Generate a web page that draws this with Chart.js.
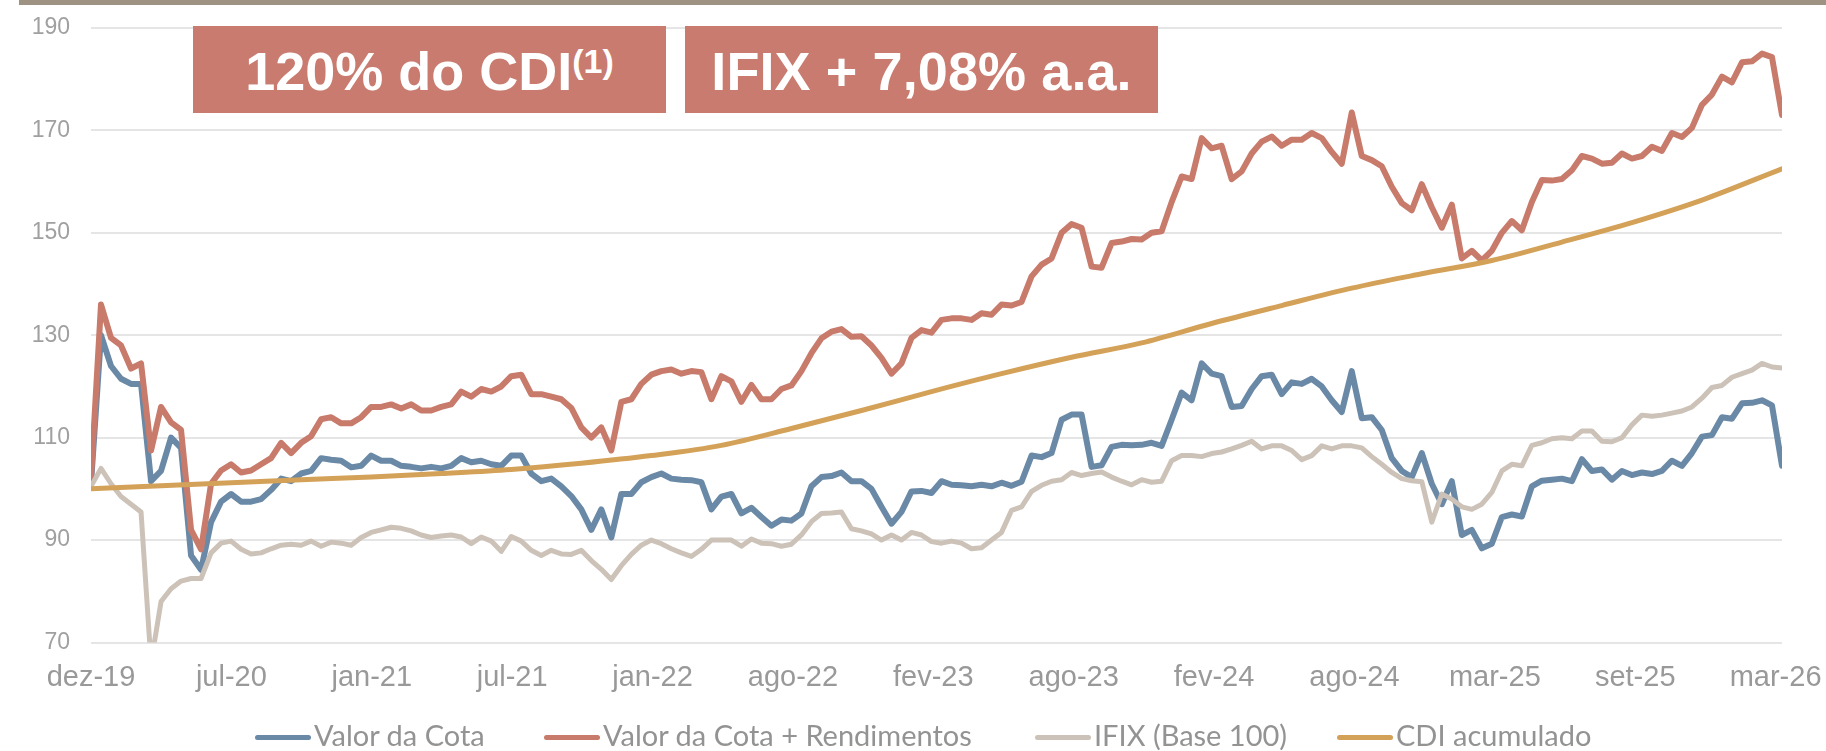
<!DOCTYPE html>
<html>
<head>
<meta charset="utf-8">
<script src="https://cdn.jsdelivr.net/npm/chart.js@4.4.1/dist/chart.umd.min.js"></script>
<style>
  html, body { margin: 0; padding: 0; background: #ffffff; }
  #wrap { position: relative; width: 1826px; height: 751px; overflow: hidden; background: #fff; }
  #c { position: absolute; left: 0; top: 0; }
  .bar { position: absolute; left: 19px; top: 0; width: 1807px; height: 5px; background: #9e9282; }
  .box { position: absolute; top: 26px; height: 87px; width: 473px; background: #c87b6e; }
  .btxt { position: absolute; left: 0; right: 0; top: 17.8px; text-align: center; color: #fff;
          font-family: 'Liberation Sans', Arial, sans-serif; font-weight: bold; font-size: 54px; line-height: 1; white-space: nowrap; }
  .sup { font-size: 34px; position: relative; top: -17px; line-height: 0; }
  .ln { position: absolute; top: 734.5px; height: 5px; width: 56px; border-radius: 3px; }
  .lt { position: absolute; top: 720px; font-family: Lato, 'Open Sans', sans-serif; font-size: 29px; line-height: 1;
        color: #939393; white-space: nowrap; }
</style>
</head>
<body>
<div id="wrap">
  <canvas id="c" width="1826" height="751"></canvas>
  <div class="bar"></div>
  <div class="box" style="left:193px"><div class="btxt" style="letter-spacing:0px">120% do CDI<span class="sup">(1)</span></div></div>
  <div class="box" style="left:685px"><div class="btxt" style="letter-spacing:0.1px">IFIX + 7,08% a.a.</div></div>
  <div id="legend"></div>
</div>
<script>
// ---- Data (index = sampling step along the time axis) ----
const tickPos = [0, 14.03, 28.06, 42.09, 56.12, 70.15, 84.18, 98.21, 112.24, 126.27, 140.3, 154.33, 168.36];
const tickLabels = ['dez-19','jul-20','jan-21','jul-21','jan-22','ago-22','fev-23','ago-23','fev-24','ago-24','mar-25','set-25','mar-26'];

const valorCota = [
  101, 130, 124, 121.5, 120.5, 120.5, 101.5, 103.5, 110, 108,
  87, 84.2, 93.5, 97.5, 99, 97.5, 97.5, 98, 99.8, 102,
  101.5, 103, 103.5, 106, 105.7, 105.5, 104.2, 104.5, 106.5, 105.5,
  105.5, 104.5, 104.3, 104, 104.3, 104, 104.5, 106, 105.2, 105.5,
  104.8, 104.5, 106.5, 106.5, 103, 101.5, 102, 100.5, 98.6, 96,
  92, 96, 90.5, 99, 99, 101.3, 102.3, 103, 102, 101.8,
  101.7, 101.3, 96, 98.5, 99, 95.2, 96.3, 94.5, 92.8, 94,
  93.8, 95.2, 100.5, 102.3, 102.5, 103.2, 101.5, 101.5, 100, 96.5,
  93.2, 95.5, 99.5, 99.6, 99.2, 101.5, 100.8, 100.7, 100.5, 100.8,
  100.5, 101.2, 100.6, 101.4, 106.5, 106.2, 107, 113.5, 114.5, 114.5,
  104.3, 104.6, 108.2, 108.6, 108.5, 108.6, 109, 108.4, 113.5, 118.8,
  117.3, 124.5, 122.5, 122, 116, 116.2, 119.5, 122, 122.3, 118.5,
  120.8, 120.5, 121.5, 120, 117.3, 115, 123, 113.8, 114, 111.5,
  106, 103.5, 102.3, 107, 101, 97, 101.5, 91, 92, 88.4,
  89.3, 94.5, 95, 94.6, 100.5, 101.6, 101.8, 102, 101.5, 105.8,
  103.5, 103.8, 101.8, 103.5, 102.7, 103.2, 102.9, 103.5, 105.5, 104.5,
  107, 110.2, 110.5, 114, 113.7, 116.7, 116.8, 117.3, 116.3, 104.5
];

const valorCotaRend = [
  102, 136, 129.5, 128, 123.5, 124.5, 107.5, 116, 113, 111.5,
  92, 88.2, 101, 103.6, 104.8, 103.2, 103.6, 104.8, 106, 109,
  107, 109, 110.3, 113.6, 114, 112.8, 112.8, 114, 116, 116,
  116.5, 115.7, 116.5, 115.3, 115.3, 116, 116.5, 119, 118, 119.5,
  119, 120, 122, 122.3, 118.5, 118.5, 118, 117.5, 115.8, 112,
  110, 112, 107.5, 117, 117.5, 120.5, 122.3, 123, 123.3, 122.5,
  123, 122.8, 117.5, 122, 121, 117, 120.3, 117.5, 117.5, 119.5,
  120.2, 123, 126.5, 129.4, 130.7, 131.2, 129.7, 129.8, 128, 125.6,
  122.5, 124.5, 129.5, 131, 130.5, 133, 133.3, 133.3, 133, 134.3,
  134, 136, 135.8, 136.5, 141.5, 143.8, 145, 150, 151.7, 151,
  143.4, 143.2, 148, 148.3, 148.8, 148.7, 150, 150.3, 156, 161,
  160.5, 168.5, 166.5, 167, 160.5, 162, 165.5, 167.8, 168.8, 167,
  168.2, 168.2, 169.5, 168.5, 165.8, 163.5, 173.5, 165, 164.2, 163,
  159, 155.8, 154.4, 159.5, 155, 151, 155.5, 145, 146.5, 144.6,
  146.5, 150, 152.3, 150.5, 156, 160.3, 160.2, 160.5, 162.2, 165,
  164.5, 163.5, 163.7, 165.5, 164.5, 165, 166.8, 166, 169.5, 168.7,
  170.5, 175, 177, 180.5, 179.4, 183.3, 183.5, 185, 184.3, 173
];

const ifix = [
  100.5, 104, 101, 98.5, 97, 95.5, 66, 78, 80.5, 82,
  82.5, 82.5, 87.5, 89.4, 89.8, 88.2, 87.3, 87.5, 88.3, 89,
  89.2, 89, 89.8, 88.8, 89.6, 89.4, 89, 90.5, 91.5, 92,
  92.5, 92.3, 91.8, 91, 90.5, 90.8, 91, 90.6, 89.3, 90.6,
  89.8, 87.8, 90.7, 89.8, 88, 87, 88, 87.3, 87.2, 88,
  86, 84.3, 82.3, 85, 87.2, 89, 90, 89.3, 88.3, 87.5,
  86.8, 88.2, 90, 90, 90, 88.8, 90.2, 89.4, 89.3, 88.8,
  89.2, 91, 93.6, 95.2, 95.3, 95.5, 92.2, 91.8, 91.2, 90,
  91, 90, 91.5, 91, 89.7, 89.4, 89.8, 89.4, 88.3, 88.5,
  90, 91.5, 95.8, 96.5, 99.5, 100.7, 101.5, 101.8, 103.2, 102.6,
  103, 103.3, 102.3, 101.5, 100.8, 101.8, 101.3, 101.5, 105.5, 106.5,
  106.5, 106.3, 106.9, 107.2, 107.8, 108.5, 109.3, 107.8, 108.4, 108.4,
  107.5, 105.7, 106.5, 108.4, 107.8, 108.4, 108.4, 108, 106.3, 104.8,
  103.2, 102, 101.6, 101.4, 93.5, 99, 98, 96.5, 96, 97,
  99.3, 103.5, 104.8, 104.5, 108.5, 109, 109.8, 110, 109.8, 111.3,
  111.3, 109.3, 109.2, 110, 112.5, 114.4, 114.2, 114.4, 114.8, 115.2,
  116, 117.7, 119.8, 120.2, 121.8, 122.5, 123.2, 124.5, 123.8, 123.6
];

const cdiIdx  = [0, 7, 14, 21, 28, 35, 42, 49, 56, 63, 70, 77, 84, 91, 98, 105, 112, 119, 126, 133, 140, 147, 154, 161, 169];
const cdiVals = [100, 100.6, 101.2, 101.8, 102.3, 103, 103.8, 105, 106.5, 108.5, 111.8, 115.3, 119, 122.5, 125.7, 128.5, 132.3, 135.8, 139.2, 142, 144.6, 148.2, 152, 156.4, 162.5];

const seriesNames = ['Valor da Cota', 'Valor da Cota + Rendimentos', 'IFIX (Base 100)', 'CDI acumulado'];

// ---- Styles ----
const COLORS = ['#6a89a6', '#c87a6b', '#ccc2b8', '#d4a158'];
const legendX = [255, 544, 1035, 1337];

const toXY = arr => arr.map((v, i) => ({ x: i, y: v }));
const lastIdx = valorCota.length - 1;

new Chart(document.getElementById('c'), {
  type: 'line',
  data: {
    datasets: [
      { label: seriesNames[0], data: toXY(valorCota), borderColor: COLORS[0], order: 4, borderWidth: 6 },
      { label: seriesNames[1], data: toXY(valorCotaRend), borderColor: COLORS[1], order: 3, borderWidth: 6 },
      { label: seriesNames[2], data: toXY(ifix), borderColor: COLORS[2], order: 2, borderWidth: 5 },
      { label: seriesNames[3], data: cdiIdx.map((x, k) => ({ x: x, y: cdiVals[k] })), borderColor: COLORS[3], order: 1,
        borderWidth: 5, cubicInterpolationMode: 'monotone' }
    ]
  },
  options: {
    responsive: false,
    animation: false,
    devicePixelRatio: 1,
    layout: { padding: { left: 0, right: 44, top: 28, bottom: 48.5 } },
    plugins: { legend: { display: false }, tooltip: { enabled: false } },
    elements: {
      point: { radius: 0, hoverRadius: 0 },
      line: { borderJoinStyle: 'round', borderCapStyle: 'round', tension: 0, fill: false }
    },
    scales: {
      x: {
        type: 'linear', min: 0, max: lastIdx,
        grid: { display: false, drawTicks: false },
        border: { display: false },
        afterBuildTicks: s => { s.ticks = tickPos.map(v => ({ value: v })); },
        afterFit: s => { s.height = 60; s.paddingLeft = 0; s.paddingRight = 0; },
        ticks: {
          autoSkip: false, maxRotation: 0, minRotation: 0, padding: 18,
          color: '#999999',
          font: { family: "'Liberation Sans', Arial, sans-serif", size: 29 },
          callback: (v, i) => tickLabels[i]
        }
      },
      y: {
        min: 70, max: 190,
        grid: { color: '#e5e5e5', lineWidth: 2, drawTicks: false },
        border: { display: false },
        afterFit: s => { s.width = 91; s.paddingTop = 0; s.paddingBottom = 0; },
        ticks: {
          stepSize: 20, padding: 21, color: '#a0a0a0',
          font: { family: "'Liberation Sans', Arial, sans-serif", size: 23 }
        }
      }
    }
  }
});

// ---- Legend (HTML) ----
const lg = document.getElementById('legend');
seriesNames.forEach((name, k) => {
  const ln = document.createElement('div');
  ln.className = 'ln';
  ln.style.left = legendX[k] + 'px';
  ln.style.background = COLORS[k];
  lg.appendChild(ln);
  const t = document.createElement('div');
  t.className = 'lt';
  t.style.left = (legendX[k] + 59) + 'px';
  t.textContent = name;
  lg.appendChild(t);
});
</script>
</body>
</html>
